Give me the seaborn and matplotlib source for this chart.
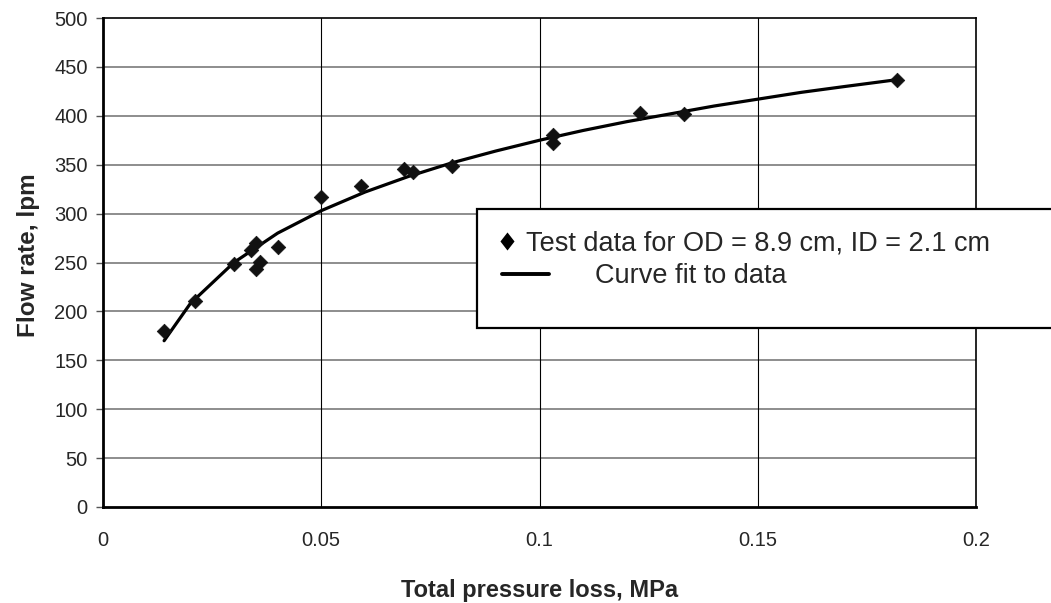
import matplotlib
matplotlib.use("Agg")
import matplotlib.pyplot as plt
from matplotlib.lines import Line2D
from matplotlib.patches import Rectangle
import seaborn as sns
import pandas as pd

# ---- data ----
pressure = [0.014, 0.021, 0.030, 0.034, 0.035, 0.035, 0.036, 0.040, 0.050, 0.059,
            0.069, 0.071, 0.080, 0.103, 0.103, 0.123, 0.133, 0.182]
flow = [180, 211, 248, 263, 270, 243, 251, 266, 317, 328,
        346, 343, 349, 380, 372, 403, 402, 437]

fit_x = [0.014, 0.02, 0.03, 0.04, 0.05, 0.06, 0.07, 0.08, 0.09, 0.10,
         0.11, 0.12, 0.13, 0.14, 0.15, 0.16, 0.17, 0.182]
fit_y = [170, 208, 250, 280, 303, 322, 338, 352, 364, 375,
         385, 394, 402, 410, 417, 424, 430, 437]

x_ticks = [0, 0.05, 0.1, 0.15, 0.2]
x_tick_labels = ["0", "0.05", "0.1", "0.15", "0.2"]
y_ticks = [0, 50, 100, 150, 200, 250, 300, 350, 400, 450, 500]

label_points = "Test data for OD = 8.9 cm, ID = 2.1 cm"
label_curve = "Curve fit to data"
x_label = "Total pressure loss, MPa"
y_label = "Flow rate, lpm"

pts = pd.DataFrame({"pressure": pressure, "flow": flow})
curve = pd.DataFrame({"pressure": fit_x, "flow": fit_y})

sns.set_style("white")
plt.rcParams["font.family"] = ["Liberation Sans", "DejaVu Sans"]

fig = plt.figure(figsize=(10.51, 6.03), dpi=100)
ax = fig.add_axes([103 / 1051, 1 - 507 / 603, (976 - 103) / 1051, (507 - 18) / 603])

sns.lineplot(data=curve, x="pressure", y="flow", ax=ax, color="black",
             linewidth=2.3, zorder=3, legend=False)
sns.scatterplot(data=pts, x="pressure", y="flow", ax=ax, marker="D", s=55,
                color="#111111", edgecolor="#111111", linewidth=0.5, zorder=4,
                legend=False)

ax.set_xlim(0, 0.2)
ax.set_ylim(0, 500)
ax.set_xticks(x_ticks)
ax.set_xticklabels(x_tick_labels)
ax.set_yticks(y_ticks)

ax.grid(False)
for v in y_ticks[1:-1]:
    ax.axhline(v, color="#7a7a7a", linewidth=1.2, zorder=1)
for v in x_ticks[1:-1]:
    ax.axvline(v, color="black", linewidth=0.8, zorder=1)

for side in ["top", "right"]:
    ax.spines[side].set_color("black")
    ax.spines[side].set_linewidth(1.2)
for side in ["left", "bottom"]:
    ax.spines[side].set_color("black")
    ax.spines[side].set_linewidth(2.0)

ax.tick_params(axis="y", which="major", direction="out", length=5, width=1,
               color="#555555", labelsize=14.5, pad=6, left=True)
ax.tick_params(axis="x", which="major", length=0, labelsize=14.5, pad=17)

ax.set_xlabel(x_label, fontsize=17, fontweight="bold", labelpad=21)
ax.set_ylabel(y_label, fontsize=17.5, fontweight="bold", labelpad=14)
ax.yaxis.set_label_coords(-0.072, (507 - 255) / 489)

# legend frame (extends past the right edge, as in the reference)
frame = Rectangle((477 / 1051, 1 - 328 / 603), 0.56, (328 - 209) / 603,
                  transform=fig.transFigure, facecolor="white", edgecolor="black",
                  linewidth=1.6, zorder=10, clip_on=False)
fig.patches.append(frame)

diamond = [(0, 1), (0.78, 0), (0, -1), (-0.78, 0), (0, 1)]
h_pts = Line2D([], [], linestyle="none", marker=diamond, markersize=13,
               color="black", markeredgewidth=0)
h_line = Line2D([], [], color="black", linewidth=2.8)

leg1 = fig.legend([h_pts], [label_points], loc="center left",
                  bbox_to_anchor=(499 / 1051, 1 - 243 / 603), frameon=False,
                  fontsize=19.5, handlelength=0.6, handletextpad=0.38,
                  borderpad=0, borderaxespad=0)
leg2 = fig.legend([h_line], [label_curve], loc="center left",
                  bbox_to_anchor=(502 / 1051, 1 - 276 / 603), frameon=False,
                  fontsize=19.5, handlelength=1.75, handletextpad=1.67,
                  borderpad=0, borderaxespad=0)
leg1.set_zorder(11)
leg2.set_zorder(11)

fig.savefig("out.png", dpi=100, facecolor="white")
